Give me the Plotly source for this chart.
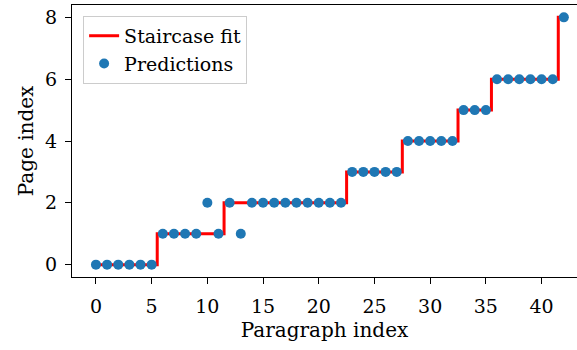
import plotly.graph_objects as go

paragraph_index = list(range(43))
predictions = [0, 0, 0, 0, 0, 0,
               1, 1, 1, 1, 2, 1,
               2, 1, 2, 2, 2, 2, 2, 2, 2, 2, 2,
               3, 3, 3, 3, 3,
               4, 4, 4, 4, 4,
               5, 5, 5,
               6, 6, 6, 6, 6, 6,
               8]
staircase = [0, 0, 0, 0, 0, 0,
             1, 1, 1, 1, 1, 1,
             2, 2, 2, 2, 2, 2, 2, 2, 2, 2, 2,
             3, 3, 3, 3, 3,
             4, 4, 4, 4, 4,
             5, 5, 5,
             6, 6, 6, 6, 6, 6,
             8]
x_ticks = [0, 5, 10, 15, 20, 25, 30, 35, 40]
y_ticks = [0, 2, 4, 6, 8]

FONT = "DejaVu Serif"

fig = go.Figure()
fig.add_trace(go.Scatter(
    x=paragraph_index, y=staircase, mode="lines", line_shape="hvh",
    line=dict(color="#ff0000", width=3), name="Staircase fit"))
fig.add_trace(go.Scatter(
    x=paragraph_index, y=predictions, mode="markers",
    marker=dict(color="#1f77b4", size=10), name="Predictions"))

axis_common = dict(showgrid=False, zeroline=False, showline=True, automargin=False,
                   linecolor="black", linewidth=1.3, ticks="outside",
                   ticklen=6, tickwidth=1.2, tickcolor="black",
                   tickfont=dict(family=FONT, size=19, color="black"))

fig.update_layout(
    width=577, height=350,
    margin=dict(l=72, r=0, t=5, b=73),
    plot_bgcolor="white", paper_bgcolor="white",
    font=dict(family=FONT, size=19, color="black"),
    xaxis=dict(range=[-2.15, 43.18], tickvals=x_ticks, mirror=True,
               ticklabelstandoff=6,
               title=dict(text="Paragraph index", font=dict(family=FONT, size=20), standoff=7),
               **axis_common),
    yaxis=dict(range=[-0.4, 8.4], tickvals=y_ticks,
               ticklabelstandoff=4,
               title=dict(text="Page index", font=dict(family=FONT, size=20), standoff=5),
               **axis_common),
    legend=dict(x=0.022, y=0.96, xanchor="left", yanchor="top",
                bgcolor="white", bordercolor="#cccccc", borderwidth=1,
                entrywidth=165, tracegroupgap=0,
                font=dict(family=FONT, size=19)),
    showlegend=True,
)

fig.write_html("out.html", config={"displayModeBar": False},
               post_script="document.body.style.margin='0px';")
